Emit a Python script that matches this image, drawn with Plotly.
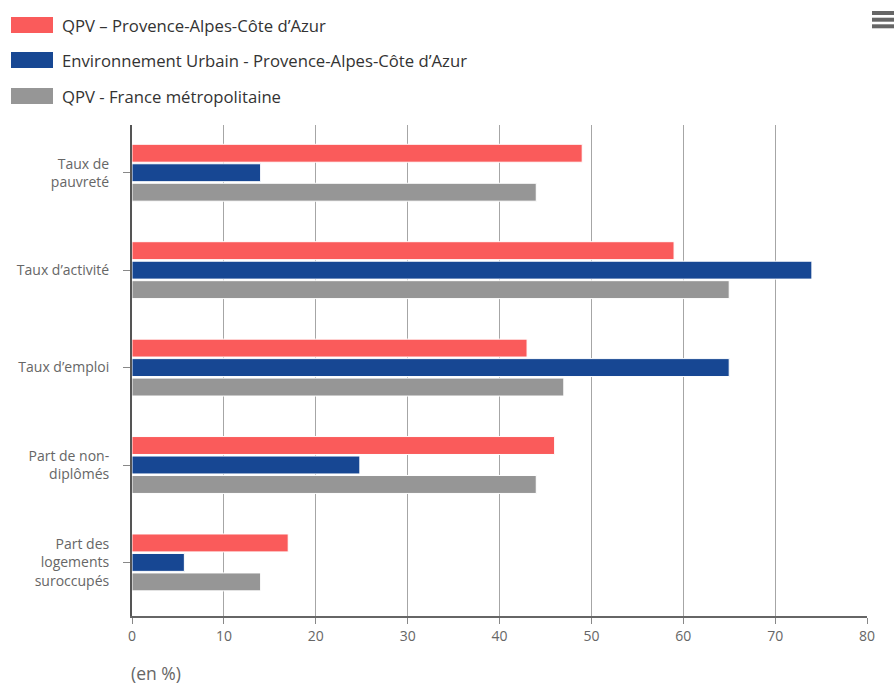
import plotly.graph_objects as go

categories = ["Taux de<br>pauvreté", "Taux d’activité", "Taux d’emploi",
              "Part de non-<br>diplômés", "Part des<br>logements<br>suroccupés"]
series_names = ["QPV – Provence-Alpes-Côte d’Azur",
                "Environnement Urbain - Provence-Alpes-Côte d’Azur",
                "QPV - France métropolitaine"]
qpv_paca = [49, 59, 43, 46, 17]
eu_paca = [14, 74, 65, 24.8, 5.7]
qpv_france = [44, 65, 47, 44, 14]
series_values = [qpv_paca, eu_paca, qpv_france]
colors = ["#FA5B5B", "#174793", "#969696"]
x_ticks = [0, 10, 20, 30, 40, 50, 60, 70, 80]
x_title = "(en %)"

W, H = 896, 684
L, R, T, B = 132, 29, 125, 68
PW, PH = W - L - R, H - T - B

def px(x):
    return (x - L) / PW

def py(y):
    return (H - B - y) / PH

fig = go.Figure()
for name, vals, col in zip(series_names, series_values, colors):
    fig.add_trace(go.Bar(
        y=categories, x=vals, name=name, orientation="h",
        marker=dict(color=col, line=dict(color="white", width=1)),
        showlegend=False,
    ))

shapes = []
annotations = []
legend_rows = [25, 60, 96]
for name, col, yc in zip(series_names, colors, legend_rows):
    shapes.append(dict(type="rect", xref="paper", yref="paper",
                       x0=px(11), x1=px(53), y0=py(yc + 8), y1=py(yc - 8),
                       fillcolor=col, line=dict(width=0)))
    annotations.append(dict(text=name, xref="paper", yref="paper",
                            x=px(60), y=py(yc), xanchor="left", yanchor="middle",
                            showarrow=False, font=dict(size=16.7, color="#333333")))

# export menu icon
for yc in [13, 19.7, 26.3]:
    shapes.append(dict(type="rect", xref="paper", yref="paper",
                       x0=px(872), x1=px(894), y0=py(yc + 2), y1=py(yc - 2),
                       fillcolor="#666666", line=dict(width=0)))

annotations.append(dict(text=x_title, xref="paper", yref="paper",
                        x=px(129), y=py(673), xanchor="left", yanchor="middle",
                        showarrow=False, font=dict(size=17.5, color="#666666")))

fig.update_layout(
    width=W, height=H,
    margin=dict(l=L, r=R, t=T, b=B, pad=0),
    paper_bgcolor="white", plot_bgcolor="white",
    font=dict(family="Open Sans", color="#666666"),
    barmode="group", bargap=0.4, bargroupgap=0.08,
    shapes=shapes, annotations=annotations,
    xaxis=dict(range=[0, 80], tickvals=x_ticks, showgrid=True,
               gridcolor="#a6a6a6", gridwidth=1, zeroline=False,
               showline=True, linecolor="#666666", linewidth=2,
               ticks="outside", ticklen=6, tickcolor="#888888", tickwidth=1,
               tickfont=dict(size=14, color="#666666")),
    yaxis=dict(range=[4.55, -0.49], showgrid=False, zeroline=False,
               showline=True, linecolor="#555555", linewidth=2,
               ticks="outside", ticklen=7, tickcolor="#888888", tickwidth=1,
               ticklabelstandoff=11,
               tickfont=dict(size=14, color="#666666")),
)

fig.write_html("out.html")
